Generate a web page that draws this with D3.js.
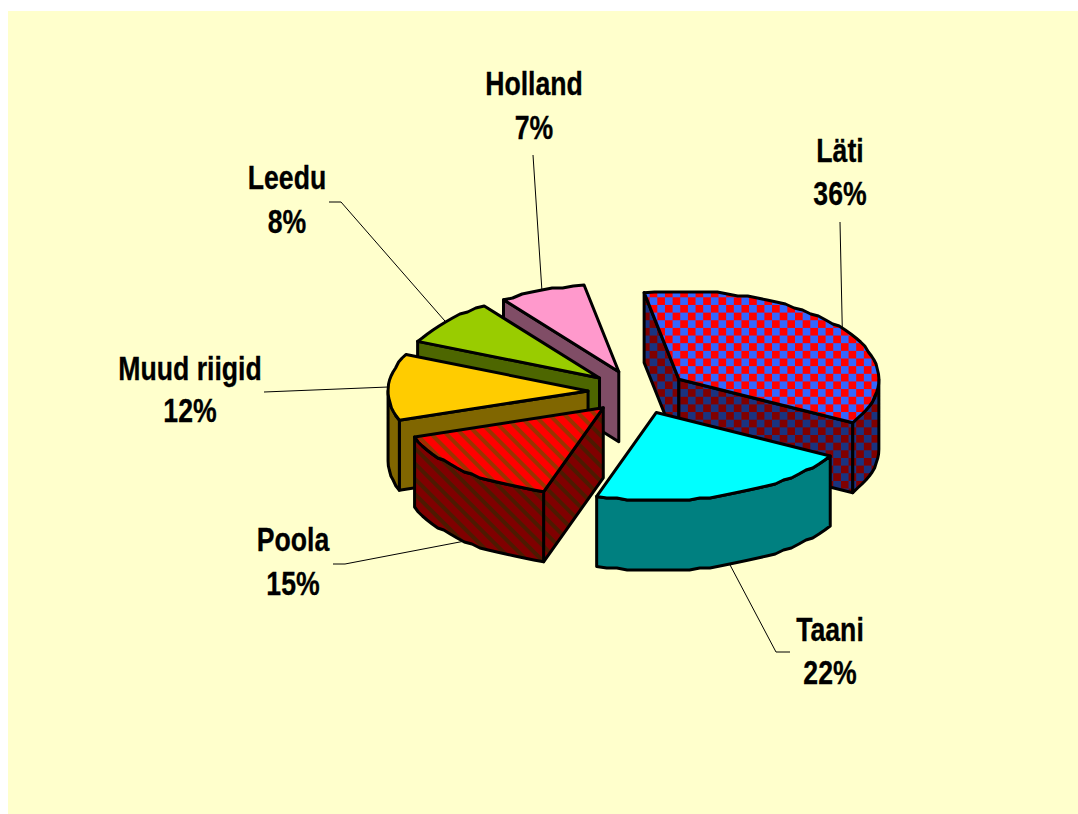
<!DOCTYPE html>
<meta charset="utf-8">
<style>
  body { margin: 0; background: #fff; }
  svg { display: block; }
  text { font-family: "Liberation Sans", Arial, sans-serif; font-weight: bold; font-size: 32.5px; fill: #000; stroke: #000; stroke-width: 0.3; text-anchor: middle; }
</style>
<body>
  <script src="https://d3js.org/d3.v7.min.js"></script>
  <div id="chart"></div>

  <script>
    // values, clockwise from the first slice (labels show them rounded)
    var categories = ['Läti', 'Taani', 'Poola', 'Muud riigid', 'Leedu', 'Holland'];
    var shares = [36, 21.6, 14.8, 12.2, 8.4, 7];
    var topFills = ['url(#checkTop)', '#00ffff', 'url(#stripeTop)', '#ffcc00', '#99cc00', '#ff99cc'];
    var wallFills = ['url(#checkWall)', '#008080', 'url(#stripeWall)', '#806600', '#4d6600', '#804d66'];
    // back to front
    var drawOrder = [0, 5, 4, 3, 2, 1];

    // label placement, same order as categories: text centre, two baselines, leader start / elbow
    var labelX = [840, 830, 293, 190, 287, 534];
    var labelY1 = [162, 641, 551, 380, 189, 95];
    var labelY2 = [205, 684, 595, 422, 233, 139];
    var leaders = [
      [[840, 222]],
      [[790, 652], [776, 652]],
      [[333, 564], [345, 564]],
      [[264, 392]],
      [[329, 202], [341, 202]],
      [[533, 155]]
    ];

    var width = 1078, height = 814;
    var explode = 0.25, depth = 70, rad = Math.PI / 180;

    var svg = d3.select('#chart').append('svg').attr('width', width).attr('height', height);
    var defs = svg.append('defs');

    function checker(id, a, b) {
      var s = 7.65;
      var p = defs.append('pattern').attr('id', id).attr('patternUnits', 'userSpaceOnUse')
        .attr('x', 642).attr('y', 282).attr('width', s * 2).attr('height', s * 2);
      p.append('rect').attr('width', s * 2).attr('height', s * 2).attr('fill', a);
      p.append('rect').attr('width', s).attr('height', s).attr('fill', b);
      p.append('rect').attr('x', s).attr('y', s).attr('width', s).attr('height', s).attr('fill', b);
    }
    function stripes(id, a, b) {
      var s = 10.8;
      var p = defs.append('pattern').attr('id', id).attr('patternUnits', 'userSpaceOnUse')
        .attr('width', s).attr('height', s).attr('patternTransform', 'rotate(45)');
      p.append('rect').attr('width', s).attr('height', s).attr('fill', a);
      p.append('rect').attr('width', s).attr('height', 4).attr('fill', b);
    }
    checker('checkTop', '#3366ff', '#ff0000');
    checker('checkWall', '#1a3380', '#800000');
    stripes('stripeTop', '#ff0000', '#993300');
    stripes('stripeWall', '#800000', '#4d1a00');

    svg.append('rect').attr('x', 8).attr('y', 11).attr('width', width - 8).attr('height', height - 11).attr('fill', '#ffffcc');

    // unit circle -> tilted ellipse on the page
    var x = d3.scaleLinear().domain([-1, 1]).range([438, 838]);
    var y = d3.scaleLinear().domain([-1, 1]).range([304, 480]);

    var pie = d3.pie().sort(null).startAngle(-10 * rad).endAngle(350 * rad);
    var arcs = pie(shares);

    var line = d3.line();

    function apexOf(d) {
      var mid = (d.startAngle + d.endAngle) / 2;
      return [Math.sin(mid) * explode, -Math.cos(mid) * explode];
    }
    function rimPoint(d, a) {
      var c = apexOf(d);
      return [x(c[0] + Math.sin(a)), y(c[1] - Math.cos(a))];
    }
    // rim as coarse polyline snapped to a grid, the old renderer's lumpy edge
    function rim(d, a0, a1) {
      var n = Math.max(1, Math.round((a1 - a0) / (3 * rad))), pts = [];
      for (var i = 0; i <= n; i++) {
        var p = rimPoint(d, a0 + (a1 - a0) * i / n);
        if (i > 0 && i < n) p[1] = Math.round(p[1] / 2) * 2;
        pts.push(p);
      }
      return pts;
    }
    function down(pts) {
      return pts.map(function(p) { return [p[0], p[1] + depth]; }).reverse();
    }
    function piece(pts, fill) {
      svg.append('path').attr('d', line(pts) + 'Z').attr('fill', fill)
        .attr('stroke', '#000').attr('stroke-width', 3).attr('stroke-linejoin', 'round');
    }

    // leaders go under the pie
    leaders.forEach(function(start, i) {
      var d = arcs[i], mid = (d.startAngle + d.endAngle) / 2;
      var end = rimPoint(d, mid);
      if (Math.cos(mid) < 0) end[1] += depth;
      svg.append('path').attr('d', line(start.concat([end]))).attr('fill', 'none')
        .attr('stroke', '#000').attr('stroke-width', 1);
    });

    drawOrder.forEach(function(i) {
      var d = arcs[i], a0 = d.startAngle, a1 = d.endAngle;
      var c = apexOf(d), apex = [x(c[0]), y(c[1])];
      var fill = wallFills[i];

      if (Math.sin(a0) < 0) {
        var s = [apex, rimPoint(d, a0)];
        piece(s.concat(down(s)), fill);
      }
      if (Math.sin(a1) > 0) {
        var e = [apex, rimPoint(d, a1)];
        piece(e.concat(down(e)), fill);
      }
      var o0 = Math.max(a0, 90 * rad), o1 = Math.min(a1, 270 * rad);
      if (o1 > o0) {
        var r = rim(d, o0, o1);
        piece(r.concat(down(r)), fill);
      }
      piece([apex].concat(rim(d, a0, a1)), topFills[i]);
    });

    // the reference text is a squeezed Arial bold
    function label(px, py, str) {
      svg.append('text').attr('transform', 'translate(' + px + ',' + py + ') scale(0.82,1)').text(str);
    }
    categories.forEach(function(name, i) {
      label(labelX[i], labelY1[i], name);
      label(labelX[i], labelY2[i], Math.round(shares[i]) + '%');
    });
  </script>
</body>
